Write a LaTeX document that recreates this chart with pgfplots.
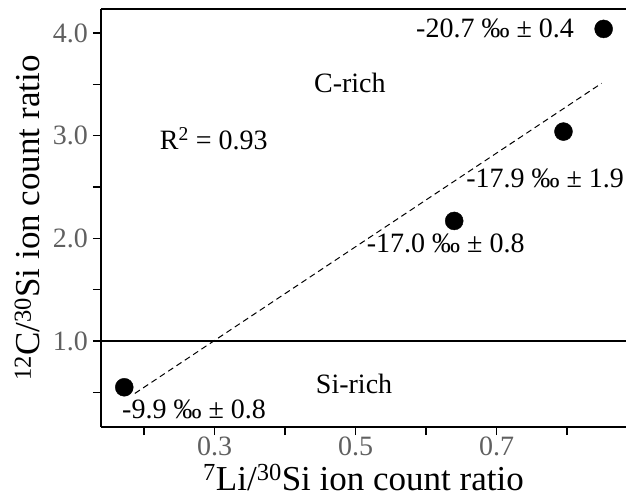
\documentclass[border=0pt]{standalone}
\usepackage{fontspec}
\setmainfont{Liberation Serif}
\usepackage{pgfplots}
\pgfplotsset{compat=1.18}
\definecolor{tickgray}{HTML}{606060}
\begin{document}
\begin{tikzpicture}
\useasboundingbox (-101pt,-74pt) rectangle (525pt,427pt);
\begin{axis}[
  at={(0,0)}, anchor=south west,
  scale only axis, width=525pt, height=418pt,
  xmin=0.139, xmax=0.8837, ymin=0.163, ymax=4.234,
  axis x line*=box, axis y line*=left,
  axis line style={line width=1.6pt},
  xtick={0.2,0.3,0.4,0.5,0.6,0.7,0.8},
  xticklabels={,0.3,,0.5,,0.7,},
  ytick={0.5,1,1.5,2,2.5,3,3.5,4},
  yticklabels={,1.0,,2.0,,3.0,,4.0},
  xtick pos=bottom, ytick pos=left,
  tick align=outside,
  major tick length=8pt,
  tick style={line width=1.4pt, black},
  tick label style={font=\fontsize{28}{30}\selectfont, text=tickgray},
  xticklabel style={inner sep=0pt, yshift=-2pt, text depth=0pt},
  yticklabel style={inner sep=1pt, xshift=-4pt},
  xlabel={\textsuperscript{7}Li/\textsuperscript{30}Si ion count ratio},
  ylabel={\textsuperscript{12}C/\textsuperscript{30}Si ion count ratio},
  label style={font=\fontsize{35}{38}\selectfont},
  xlabel style={at={(rel axis cs:0.5,0)}, anchor=base, yshift=-63pt, inner sep=0pt},
  ylabel style={yshift=8pt},
  clip=false,
]
\addplot[black, line width=1.2pt] coordinates {(0.139,1) (0.8837,1)};
\addplot[black, line width=1pt, dash pattern=on 6pt off 4pt] coordinates {(0.187,0.49) (0.849,3.51)};
\addplot[only marks, mark=*, mark size=9pt, black] coordinates {
  (0.172,0.55) (0.640,2.17) (0.795,3.04) (0.852,4.04)};
\begin{scope}[every node/.style={font=\fontsize{28}{30}\selectfont, anchor=base, inner sep=0pt}]
\node at (axis cs:0.698,3.96) {-20.7 ‰ ± 0.4};
\node at (axis cs:0.492,3.416) {C-rich};
\node at (axis cs:0.299,2.864) {R\textsuperscript{2} = 0.93};
\node at (axis cs:0.769,2.50) {-17.9 ‰ ± 1.9};
\node at (axis cs:0.628,1.867) {-17.0 ‰ ± 0.8};
\node at (axis cs:0.498,0.494) {Si-rich};
\node at (axis cs:0.271,0.25) {-9.9 ‰ ± 0.8};
\end{scope}
\end{axis}
\end{tikzpicture}
\end{document}
